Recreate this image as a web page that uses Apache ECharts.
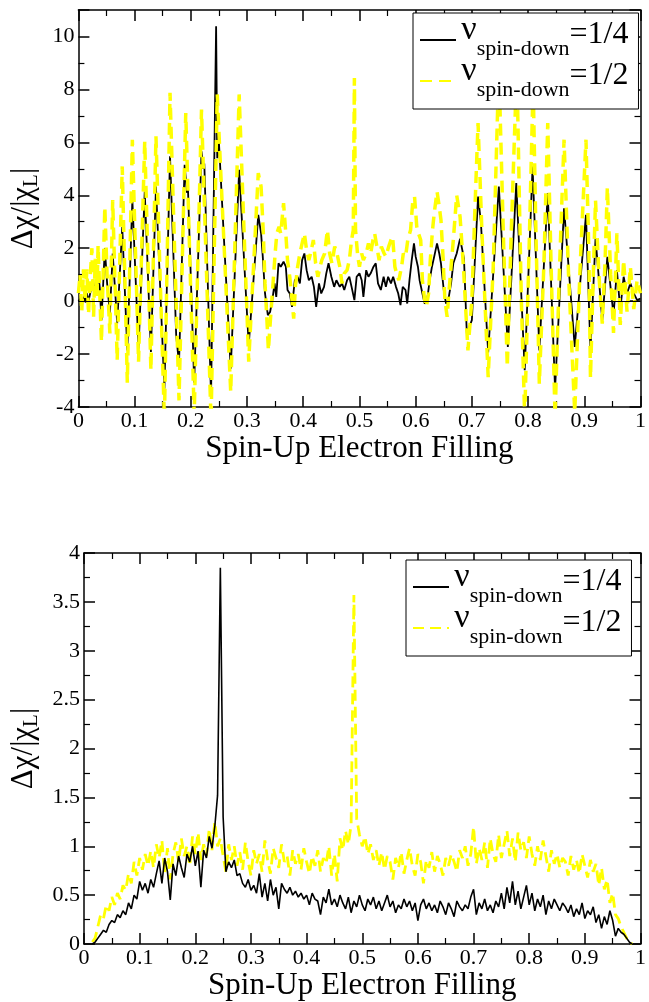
<!DOCTYPE html>
<html><head><meta charset="utf-8">
<script src="https://cdn.jsdelivr.net/npm/echarts@6/dist/echarts.min.js"></script>
<style>html,body{margin:0;padding:0;background:#fff}#c{width:649px;height:1002px}</style>
</head><body><div id="c"></div>
<script>
// ---------- DATA ----------
const legendValues = ['1/4', '1/2'];
const xAxisTitle = 'Spin-Up Electron Filling';

// Top panel, nu_down = 1/4 (black) : [filling, value]
const topBlack = [
[0,0],[0.004,0.1],[0.006,-0.15],[0.01,0.2],[0.013,-0.05],[0.015,0.3],[0.018,0],[0.021,0.05],[0.024,0.6],[0.026,0.8],
[0.029,0.3],[0.032,0.3],[0.035,1.17],[0.038,0.5],[0.041,-0.72],[0.044,0.6],[0.047,2.0],[0.051,0.7],[0.056,-0.47],[0.061,1.8],
[0.065,0.5],[0.069,-0.84],[0.078,2.8],[0.087,-1.86],[0.096,3.82],[0.107,-1.8],[0.118,4.14],[0.129,-1.92],[0.138,4.33],[0.153,-3.31],
[0.163,5.47],[0.174,-1.3],[0.179,-2.36],[0.189,5.15],[0.193,4.1],[0.195,4.2],[0.206,-3.08],[0.219,5.66],[0.222,5.0],[0.224,5.2],
[0.236,-3.6],[0.245,10.39],[0.247,5.4],[0.25,6.0],[0.271,-2.55],[0.286,4.96],[0.303,-1.66],[0.32,3.26],
[0.325,2.56],[0.328,1.68],[0.332,0.29],[0.337,-0.53],[0.341,-0.41],[0.345,0.04],[0.349,0.67],[0.352,0.16],[0.356,1.43],[0.36,1.3],
[0.365,1.49],[0.369,1.3],[0.372,0.42],[0.376,0.29],[0.38,-0.22],[0.385,0.79],[0.39,0.92],[0.394,0.67],[0.398,1.55],[0.402,1.8],
[0.406,1.17],[0.41,0.79],[0.415,0.92],[0.419,0.54],[0.423,-0.22],[0.428,0.67],[0.432,0.29],[0.437,0.54],[0.441,1.05],[0.445,1.43],
[0.45,0.92],[0.455,0.54],[0.459,0.79],[0.465,0.54],[0.469,0.67],[0.473,0.42],[0.478,0.79],[0.482,0.92],[0.486,0.54],[0.491,0.04],
[0.495,0.92],[0.5,1.05],[0.504,0.79],[0.507,0.16],[0.512,1.17],[0.516,0.92],[0.52,1.05],[0.525,1.3],[0.529,1.43],[0.533,0.67],
[0.538,0.42],[0.543,0.92],[0.547,0.54],[0.551,0.92],[0.556,0.67],[0.56,0.92],[0.565,0.54],[0.569,0.29],[0.573,-0.15],[0.577,0.54],
[0.582,0.42],[0.585,-0.09],[0.589,0.79],[0.593,1.55],[0.597,2.18],[0.6,1.68],[0.604,1.3],[0.607,0.79],[0.612,0.29],[0.616,-0.09],
[0.62,-0.03],[0.625,0.79],[0.629,1.3],[0.633,1.68],[0.638,2.18],[0.642,1.8],[0.645,1.43],[0.65,0.42],[0.654,-0.09],[0.658,0.04],
[0.663,0.67],[0.667,1.43],[0.673,1.8],
[0.679,2.36],[0.686,1.6],[0.691,-1.22],[0.7,-0.72],[0.711,3.95],[0.716,3.0],[0.729,-1.94],[0.748,4.33],[0.764,-1.73],[0.779,4.46],
[0.794,-2.61],[0.808,5.09],[0.82,-1.86],[0.835,4.08],[0.848,-3.31],[0.864,3.51],[0.883,-1.73],[0.903,3.26],[0.911,-1.86],[0.92,2.37],
[0.932,-0.72],[0.941,1.67],[0.952,-0.53],[0.958,1.17],[0.964,-0.34],[0.97,0.92],[0.976,0.29],[0.982,0.67],[0.988,0.29],[0.994,0.04],[1,0.1]
];

// Top panel, nu_down = 1/2 (yellow dashed)
const topYellow = [
[0,0.3],[0.003,1.0],[0.006,-0.4],[0.009,1.2],[0.012,0],[0.015,1.2],[0.018,-0.5],[0.021,0.9],[0.024,2.0],[0.027,-0.6],
[0.03,1.6],[0.033,0.2],[0.035,2.1],[0.038,0.3],[0.041,-1.54],[0.044,1.0],[0.047,3.57],[0.051,1.0],[0.056,-1.22],[0.061,3.82],
[0.065,0.8],[0.069,-2.23],[0.078,5.09],[0.087,-3.08],[0.096,6.1],[0.107,-2.29],[0.118,6.04],[0.129,-2.61],[0.138,6.23],[0.153,-4.5],
[0.163,7.87],[0.179,-3.75],[0.191,7.11],[0.206,-4.3],[0.219,7.24],[0.236,-4.5],[0.247,7.81],[0.271,-3.43],[0.286,7.81],[0.303,-2.29],
[0.32,4.84],
[0.325,4.33],[0.329,2.56],[0.332,0.67],[0.336,-0.97],[0.338,-1.86],[0.342,-0.59],[0.345,0.29],[0.35,1.8],[0.353,2.56],[0.357,2.81],
[0.36,2.56],[0.365,3.7],[0.369,2.56],[0.372,1.55],[0.376,0.92],[0.38,0.04],[0.383,-0.66],[0.386,0.54],[0.39,1.3],[0.394,1.8],
[0.398,2.18],[0.402,2.56],[0.406,1.93],[0.41,1.55],[0.413,1.8],[0.418,2.31],[0.422,1.43],[0.426,0.92],[0.43,1.3],[0.433,1.55],
[0.438,1.8],[0.443,2.69],[0.447,1.8],[0.451,1.43],[0.456,2.06],[0.46,1.8],[0.465,1.3],[0.469,0.67],[0.473,1.05],[0.478,1.17],
[0.482,1.55],[0.486,2.31],[0.489,2.69],[0.491,8.43],[0.493,2.69],[0.497,1.68],[0.5,1.3],[0.504,1.8],[0.507,1.55],[0.512,1.8],
[0.516,2.18],[0.52,1.8],[0.524,2.31],[0.527,2.56],[0.531,2.06],[0.535,1.55],[0.539,2.06],[0.544,1.8],[0.547,1.68],[0.552,2.06],
[0.556,2.31],[0.559,2.44],[0.563,1.3],[0.566,1.05],[0.57,0.79],[0.575,1.3],[0.578,1.8],[0.582,1.68],[0.586,2.31],[0.591,2.69],
[0.595,3.82],[0.598,3.95],[0.602,2.81],[0.605,2.56],[0.609,2.31],[0.612,0.79],[0.616,0.04],[0.619,-0.22],[0.623,0.29],[0.626,1.55],
[0.63,2.69],[0.633,3.32],[0.638,4.14],[0.642,3.57],[0.645,3.07],[0.649,1.55],[0.652,0.04],[0.656,-0.59],[0.659,0.29],[0.663,1.3],
[0.667,2.31],[0.673,4.0],
[0.679,3.19],[0.685,1.3],[0.693,-1.86],[0.7,0.04],[0.706,3.82],[0.711,6.73],[0.718,2.56],[0.729,-2.87],[0.738,1.3],[0.748,8.9],
[0.756,2.56],[0.763,-2.49],[0.77,2.56],[0.78,8.9],[0.788,0.04],[0.794,-4.38],[0.801,1.3],[0.809,8.24],[0.814,2.56],[0.82,-3.12],
[0.828,1.3],[0.835,6.73],[0.841,1.3],[0.848,-4.38],[0.856,1.3],[0.864,6.1],[0.872,1.0],[0.883,-4.2],[0.893,1.5],[0.903,6.1],
[0.908,2.0],[0.911,-2.9],[0.916,1.0],[0.92,3.8],[0.926,1.0],[0.932,-0.85],[0.937,1.5],[0.941,4.3],[0.947,1.0],[0.952,-1.2],
[0.958,2.56],[0.964,-0.9],[0.97,1.55],[0.976,-0.4],[0.982,1.3],[0.988,-0.3],[0.994,0.8],[1,0.3]
];

// Bottom panel: shared filling grid
const bottomX = [
0.015,0.02,0.025,0.03,0.035,0.04,0.045,0.05,0.055,0.06,
0.065,0.07,0.075,0.08,0.085,0.09,0.095,0.1,0.105,0.11,
0.115,0.12,0.125,0.13,0.135,0.14,0.145,0.15,0.155,0.16,
0.165,0.17,0.175,0.18,0.185,0.19,0.195,0.2,0.205,0.21,
0.215,0.22,0.225,0.23,0.235,0.24,0.245,0.25,0.255,0.26,
0.265,0.27,0.275,0.28,0.285,0.29,0.295,0.3,0.305,0.31,
0.315,0.32,0.325,0.33,0.335,0.34,0.345,0.35,0.355,0.36,
0.365,0.37,0.375,0.38,0.385,0.39,0.395,0.4,0.405,0.41,
0.415,0.42,0.425,0.43,0.435,0.44,0.445,0.45,0.455,0.46,
0.465,0.47,0.475,0.48,0.485,0.49,0.495,0.5,0.505,0.51,
0.515,0.52,0.525,0.53,0.535,0.54,0.545,0.55,0.555,0.56,
0.565,0.57,0.575,0.58,0.585,0.59,0.595,0.6,0.605,0.61,
0.615,0.62,0.625,0.63,0.635,0.64,0.645,0.65,0.655,0.66,
0.665,0.67,0.675,0.68,0.685,0.69,0.695,0.7,0.705,0.71,
0.715,0.72,0.725,0.73,0.735,0.74,0.745,0.75,0.755,0.76,
0.765,0.77,0.775,0.78,0.785,0.79,0.795,0.8,0.805,0.81,
0.815,0.82,0.825,0.83,0.835,0.84,0.845,0.85,0.855,0.86,
0.865,0.87,0.875,0.88,0.885,0.89,0.895,0.9,0.905,0.91,
0.915,0.92,0.925,0.93,0.935,0.94,0.945,0.95,0.955,0.96,
0.965,0.97,0.975,0.98,0.985
];
const bottomBlack = [
0.00,0.02,0.06,0.10,0.14,0.12,0.20,0.24,0.22,0.30,
0.27,0.34,0.30,0.42,0.36,0.50,0.46,0.64,0.55,0.62,
0.52,0.66,0.58,0.72,0.85,0.62,0.88,0.74,0.45,0.82,
0.70,0.90,0.78,0.68,0.92,0.84,1.00,0.80,0.95,0.58,
0.96,0.88,1.10,0.98,1.20,1.52,3.85,1.30,0.74,0.84,
0.78,0.86,0.70,0.72,0.62,0.58,0.66,0.55,0.60,0.52,
0.72,0.48,0.62,0.44,0.66,0.50,0.58,0.36,0.62,0.56,
0.52,0.58,0.50,0.54,0.48,0.52,0.46,0.50,0.40,0.52,
0.46,0.44,0.30,0.48,0.42,0.56,0.40,0.46,0.38,0.50,
0.42,0.36,0.48,0.32,0.44,0.38,0.50,0.40,0.34,0.46,
0.40,0.48,0.36,0.44,0.34,0.42,0.50,0.38,0.44,0.32,
0.40,0.36,0.46,0.38,0.44,0.34,0.42,0.24,0.40,0.46,
0.36,0.42,0.34,0.40,0.32,0.44,0.38,0.30,0.42,0.36,
0.28,0.44,0.38,0.34,0.40,0.36,0.48,0.56,0.30,0.42,
0.36,0.46,0.34,0.40,0.32,0.44,0.38,0.52,0.36,0.58,
0.42,0.64,0.40,0.54,0.36,0.48,0.60,0.40,0.52,0.34,
0.46,0.38,0.50,0.30,0.44,0.36,0.46,0.40,0.34,0.42,
0.38,0.32,0.40,0.28,0.36,0.30,0.42,0.26,0.34,0.30,
0.38,0.22,0.30,0.16,0.28,0.20,0.34,0.24,0.08,0.16,
0.12,0.10,0.06,0.02,0.00
];
const bottomYellow = [
0.02,0.06,0.18,0.30,0.26,0.40,0.34,0.48,0.40,0.52,
0.46,0.60,0.55,0.72,0.62,0.84,0.70,0.88,0.76,0.92,
0.80,0.95,0.78,1.02,0.88,1.06,0.72,0.98,0.66,0.92,
1.04,0.84,1.08,0.90,1.00,0.80,1.10,0.92,1.14,0.86,
1.02,0.90,1.18,0.96,1.25,1.00,1.08,0.90,0.74,1.02,
0.86,1.00,0.80,0.94,0.76,1.04,0.84,0.70,0.96,0.82,
0.92,0.74,1.06,0.86,0.72,0.98,0.88,0.78,1.02,0.84,
0.90,0.70,0.96,0.82,0.92,0.76,0.98,0.84,0.72,0.90,
0.80,0.96,0.74,0.88,0.82,1.00,0.70,0.92,0.64,1.08,
0.96,1.16,1.02,1.22,3.57,1.28,1.12,1.00,1.10,0.92,
1.02,0.86,0.96,0.80,0.94,0.76,0.90,0.84,0.66,0.88,
0.78,0.94,0.72,0.86,0.98,0.80,0.70,0.92,0.84,0.62,
0.86,0.78,0.94,0.74,0.90,0.82,0.70,0.88,0.80,0.92,
0.84,0.74,0.96,0.88,1.00,0.80,0.92,1.20,0.82,0.98,
0.86,1.04,0.78,1.08,0.92,0.84,1.12,0.88,1.02,1.16,
0.90,1.08,0.84,1.14,0.96,1.04,0.88,1.10,0.92,0.80,
1.00,0.86,1.06,0.90,0.74,0.96,0.82,0.92,0.78,0.88,
0.84,0.70,0.90,0.76,0.86,0.72,0.92,0.80,0.68,0.86,
0.74,0.82,0.60,0.78,0.56,0.66,0.42,0.52,0.30,0.26,
0.18,0.12,0.06,0.02,0.00
];

// ---------- CHART ----------
const FONT = "'Liberation Serif', 'DejaVu Serif', serif";
const zip = (xs, ys) => xs.slice(0, Math.min(xs.length, ys.length)).map((x, i) => [x, ys[i]]);
const el = document.getElementById('c');
const chart = echarts.init(el, null, { renderer: 'canvas', width: 649, height: 1002 });

function xAx(grid, pos, showLabel) {
  return {
    type: 'value', gridIndex: grid, position: pos, min: 0, max: 1, interval: 0.1,
    axisLine: { show: true, onZero: false, lineStyle: { color: '#000', width: 1.5 } },
    axisTick: { show: true, inside: true, length: 11, lineStyle: { color: '#000', width: 1.5 } },
    minorTick: { show: true, splitNumber: 2, length: 6, lineStyle: { color: '#000', width: 1.2 } },
    splitLine: { show: false },
    axisLabel: { show: showLabel, fontFamily: FONT, fontSize: 22, color: '#000', margin: 3 },
    name: showLabel ? xAxisTitle : '', nameLocation: 'middle', nameGap: 26,
    nameTextStyle: { fontFamily: FONT, fontSize: 31, color: '#000' }
  };
}
function yAx(grid, pos, showLabel, min, max, interval) {
  return {
    type: 'value', gridIndex: grid, position: pos, min: min, max: max, interval: interval,
    axisLine: { show: true, onZero: false, lineStyle: { color: '#000', width: 1.5 } },
    axisTick: { show: true, inside: true, length: 11, lineStyle: { color: '#000', width: 1.5 } },
    minorTick: { show: true, splitNumber: 2, length: 6, lineStyle: { color: '#000', width: 1.2 } },
    splitLine: { show: false },
    axisLabel: { show: showLabel, fontFamily: FONT, fontSize: 22, color: '#000', margin: 4, showMaxLabel: max % interval === 0 },
    name: showLabel ? '{a|Δχ/|χ}{s|L}{a||}' : '', nameLocation: 'middle', nameGap: 31,
    nameTextStyle: {
      rich: {
        a: { fontFamily: FONT, fontSize: 31, color: '#000', lineHeight: 36 },
        s: { fontFamily: FONT, fontSize: 21, color: '#000', lineHeight: 16, verticalAlign: 'bottom' }
      }
    }
  };
}
// legend rich tokens: top-aligned in a 50px line, shifted with top padding
const richLegend = {
  sp: { fontSize: 1, lineHeight: 50 },
  nu: { fontFamily: FONT, fontSize: 34, color: '#000', lineHeight: 10, verticalAlign: 'top', padding: [-2, 0, 0, 0] },
  sub: { fontFamily: FONT, fontSize: 22, color: '#000', lineHeight: 10, verticalAlign: 'top', padding: [23, 0, 0, 0] },
  eq: { fontFamily: FONT, fontSize: 32, color: '#000', lineHeight: 10, verticalAlign: 'top', padding: [4, 0, 0, 0] }
};
function legendFmt(name) {
  const v = name.indexOf('14') >= 0 ? legendValues[0] : legendValues[1];
  return '{sp| }{nu|ν}{sub|spin-down}{eq|=' + v + '}';
}
function legend(names, left, top) {
  return {
    data: names, orient: 'vertical', left: left, top: top,
    padding: [0, 10, 8, 6], itemGap: -6, itemWidth: 36, itemHeight: 14,
    borderColor: '#000', borderWidth: 1, borderRadius: 0, backgroundColor: '#fff',
    selectedMode: false, formatter: legendFmt,
    itemStyle: { color: 'rgba(0,0,0,0)', borderColor: 'rgba(0,0,0,0)', borderWidth: 0 },
    textStyle: { rich: richLegend }
  };
}

const option = {
  animation: false,
  backgroundColor: '#fff',
  grid: [
    { left: 78, top: 10, width: 567, height: 397, containLabel: false },
    { left: 84, top: 553, width: 560, height: 393, containLabel: false }
  ],
  xAxis: [xAx(0, 'bottom', true), xAx(0, 'top', false), xAx(1, 'bottom', true), xAx(1, 'top', false)],
  yAxis: [yAx(0, 'left', true, -4, 11, 2), yAx(0, 'right', false, -4, 11, 2),
          yAx(1, 'left', true, 0, 4, 0.5), yAx(1, 'right', false, 0, 4, 0.5)],
  legend: [legend(['top14', 'top12'], 413, 13), legend(['bot14', 'bot12'], 406, 560)],
  series: [
    { name: 'top14', type: 'line', xAxisIndex: 0, yAxisIndex: 0, data: topBlack, symbol: 'none', showSymbol: false,
      color: '#000', lineStyle: { color: '#000', width: 1.8 }, z: 2 },
    { name: 'top12', type: 'line', xAxisIndex: 0, yAxisIndex: 0, data: topYellow, symbol: 'none', showSymbol: false,
      color: '#ffff00', lineStyle: { color: '#ffff00', width: 3.5, type: [12, 7] }, z: 3,
      markLine: { silent: true, symbol: 'none', label: { show: false }, lineStyle: { color: '#000', width: 1, type: 'solid' },
        data: [{ yAxis: 0 }] } },
    { name: 'bot12', type: 'line', xAxisIndex: 2, yAxisIndex: 2, data: zip(bottomX, bottomYellow), symbol: 'none', showSymbol: false,
      color: '#ffff00', lineStyle: { color: '#ffff00', width: 2.8, type: [11, 6] }, z: 2 },
    { name: 'bot14', type: 'line', xAxisIndex: 2, yAxisIndex: 2, data: zip(bottomX, bottomBlack), symbol: 'none', showSymbol: false,
      color: '#000', lineStyle: { color: '#000', width: 1.6 }, z: 3 }
  ]
};
chart.setOption(option);
</script>
</body></html>
